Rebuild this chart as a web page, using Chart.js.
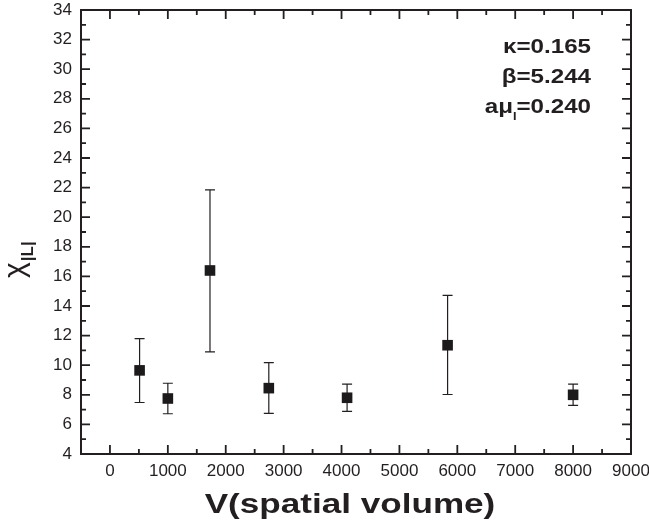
<!DOCTYPE html>
<html>
<head>
<meta charset="utf-8">
<script src="https://cdn.jsdelivr.net/npm/chart.js@4"></script>
<style>
  body { margin: 0; background: #fff; }
  #wrap { width: 649px; height: 522px; }
</style>
</head>
<body>
<div id="wrap"><canvas id="chiChart"></canvas></div>
<script>
// spatial volumes (L^3) and susceptibility values
const volumes = [512, 1000, 1728, 2744, 4096, 5832, 8000];
const chiValues = [9.65, 7.75, 16.4, 8.45, 7.8, 11.35, 8.0];
const chiUpper = [11.8, 8.78, 21.85, 10.17, 8.72, 14.72, 8.72];
const chiLower = [7.48, 6.72, 10.9, 6.74, 6.88, 8.02, 7.28];

const xMajorTicks = [0, 1000, 2000, 3000, 4000, 5000, 6000, 7000, 8000, 9000];
const xMinorTicks = [500, 1500, 2500, 3500, 4500, 5500, 6500, 7500, 8500];
const yMajorTicks = [4, 6, 8, 10, 12, 14, 16, 18, 20, 22, 24, 26, 28, 30, 32, 34];
const yMinorTicks = [5, 7, 9, 11, 13, 15, 17, 19, 21, 23, 25, 27, 29, 31, 33];

const ink = '#231f20';
const fontFamily = '"Liberation Sans", Arial, sans-serif';

// error bars drawn through the chart scales
const errorBarPlugin = {
    id: 'errorBars',
    beforeDatasetsDraw(chart) {
        const ctx = chart.ctx;
        const x = chart.scales.x;
        const y = chart.scales.y;
        ctx.save();
        ctx.strokeStyle = ink;
        ctx.lineWidth = 1.2;
        for (let i = 0; i < volumes.length; i++) {
            const px = x.getPixelForValue(volumes[i]);
            const top = y.getPixelForValue(chiUpper[i]);
            const bottom = y.getPixelForValue(chiLower[i]);
            ctx.beginPath();
            ctx.moveTo(px, top);
            ctx.lineTo(px, bottom);
            ctx.moveTo(px - 5, top);
            ctx.lineTo(px + 5, top);
            ctx.moveTo(px - 5, bottom);
            ctx.lineTo(px + 5, bottom);
            ctx.stroke();
        }
        ctx.restore();
    }
};

// frame with inward ticks on all four sides, plus titles and labels
const framePlugin = {
    id: 'frame',
    afterDraw(chart) {
        const ctx = chart.ctx;
        const area = chart.chartArea;
        const x = chart.scales.x;
        const y = chart.scales.y;
        ctx.save();
        ctx.strokeStyle = ink;
        ctx.lineWidth = 2;
        ctx.strokeRect(area.left, area.top, area.right - area.left, area.bottom - area.top);

        ctx.lineWidth = 1.8;
        ctx.beginPath();
        const xTick = (v, len) => {
            const px = x.getPixelForValue(v);
            ctx.moveTo(px, area.bottom);
            ctx.lineTo(px, area.bottom - len);
            ctx.moveTo(px, area.top);
            ctx.lineTo(px, area.top + len);
        };
        const yTick = (v, len) => {
            const py = y.getPixelForValue(v);
            ctx.moveTo(area.left, py);
            ctx.lineTo(area.left + len, py);
            ctx.moveTo(area.right, py);
            ctx.lineTo(area.right - len, py);
        };
        xMajorTicks.forEach(v => xTick(v, 9));
        xMinorTicks.forEach(v => xTick(v, 5));
        yMajorTicks.forEach(v => yTick(v, 9));
        yMinorTicks.forEach(v => yTick(v, 5));
        ctx.stroke();

        ctx.fillStyle = ink;

        // x axis title, slightly stretched like the original
        ctx.save();
        ctx.translate(350, 513);
        ctx.scale(1.3, 1);
        ctx.font = 'bold 27px ' + fontFamily;
        ctx.textAlign = 'center';
        ctx.textBaseline = 'alphabetic';
        ctx.fillText('V(spatial volume)', 0, 0);
        ctx.restore();

        // y axis title chi_|L|
        ctx.save();
        ctx.translate(24, 278);
        ctx.rotate(-Math.PI / 2);
        ctx.textAlign = 'left';
        ctx.textBaseline = 'alphabetic';
        ctx.font = '30px ' + fontFamily;
        ctx.fillText('χ', 0, 0);
        const chiW = ctx.measureText('χ').width;
        ctx.font = 'bold 17px ' + fontFamily;
        ctx.fillText('|L|', chiW + 1, 9);
        ctx.restore();

        // parameter labels, stretched horizontally from the right edge
        ctx.save();
        ctx.translate(591, 0);
        ctx.scale(1.15, 1);
        ctx.font = 'bold 21px ' + fontFamily;
        ctx.textAlign = 'right';
        ctx.textBaseline = 'alphabetic';
        ctx.fillText('κ=0.165', 0, 53);
        ctx.fillText('β=5.244', 0, 83);
        const rest = '=0.240';
        ctx.fillText(rest, 0, 113);
        const restW = ctx.measureText(rest).width;
        ctx.font = 'bold 11px ' + fontFamily;
        const subW = ctx.measureText('I').width;
        ctx.fillText('I', -restW, 120);
        ctx.font = 'bold 21px ' + fontFamily;
        ctx.fillText('aμ', -restW - subW, 113);
        ctx.restore();
        ctx.restore();
    }
};

const ctx = document.getElementById('chiChart').getContext('2d');
const chiChart = new Chart(ctx, {
    type: 'scatter',
    data: {
        datasets: [{
            label: 'chi',
            data: volumes.map((v, i) => ({ x: v, y: chiValues[i] })),
            pointStyle: 'rect',
            pointRadius: 7.5,
            pointHoverRadius: 7.5,
            backgroundColor: '#1c1a1b',
            borderColor: '#1c1a1b',
            borderWidth: 0,
            showLine: false
        }]
    },
    options: {
        responsive: true,
        maintainAspectRatio: false,
        animation: false,
        layout: { padding: { top: 10, right: 18, left: 0, bottom: 0 } },
        plugins: {
            legend: { display: false },
            tooltip: { enabled: false }
        },
        scales: {
            x: {
                type: 'linear',
                min: -500,
                max: 9000,
                afterBuildTicks: scale => {
                    scale.ticks = xMajorTicks.map(v => ({ value: v }));
                },
                afterFit: scale => {
                    scale.height = 68;
                    scale.paddingLeft = 0;
                    scale.paddingRight = 0;
                },
                grid: { display: false, drawTicks: false },
                border: { display: false },
                ticks: {
                    color: ink,
                    padding: 7,
                    maxRotation: 0,
                    font: { family: fontFamily, size: 17 },
                    callback: v => String(v)
                }
            },
            y: {
                type: 'linear',
                min: 4,
                max: 34,
                afterBuildTicks: scale => {
                    scale.ticks = yMajorTicks.map(v => ({ value: v }));
                },
                afterFit: scale => {
                    scale.width = 81;
                    scale.paddingTop = 0;
                    scale.paddingBottom = 0;
                },
                grid: { display: false, drawTicks: false },
                border: { display: false },
                ticks: {
                    color: ink,
                    padding: 9,
                    font: { family: fontFamily, size: 17 },
                    callback: v => String(v)
                }
            }
        }
    },
    plugins: [errorBarPlugin, framePlugin]
});
</script>
</body>
</html>
